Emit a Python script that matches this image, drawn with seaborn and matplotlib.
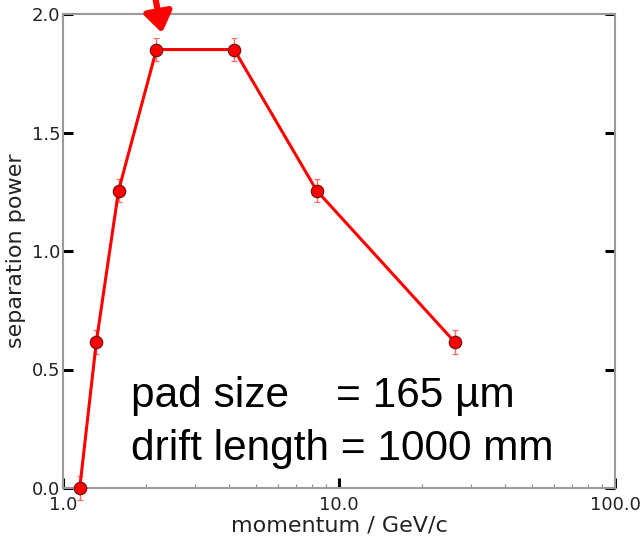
import numpy as np
import pandas as pd
import matplotlib
matplotlib.use("Agg")
import matplotlib.pyplot as plt
import seaborn as sns
from matplotlib.ticker import FixedLocator, FixedFormatter, LogLocator, NullFormatter

# ---- data ----
momentum = [1.15, 1.32, 1.59, 2.18, 4.17, 8.3, 26.3]
separation = [0.0, 0.615, 1.255, 1.85, 1.85, 1.255, 0.615]
sep_err = [0.05, 0.05, 0.05, 0.05, 0.05, 0.05, 0.05]
x_ticks = [1.0, 10.0, 100.0]
x_tick_labels = ["1.0", "10.0", "100.0"]
y_ticks = [0.0, 0.5, 1.0, 1.5, 2.0]
y_tick_labels = ["0.0", "0.5", "1.0", "1.5", "2.0"]
annot_lines = ["pad size    = 165 \u00b5m", "drift length = 1000 mm"]

sns.set_theme(style="white")
plt.rcParams['font.family'] = ['DejaVu Sans']

df = pd.DataFrame({"momentum": momentum, "separation": separation})

fig = plt.figure(figsize=(6.41, 5.42), dpi=100)
ax = fig.add_axes([63/641, 1 - 488/542, (615-63)/641, (488-14)/542])

ax.errorbar(momentum, separation, yerr=sep_err, fmt='none', ecolor='#ff6a6a',
            elinewidth=1.0, capsize=2, capthick=0.9, zorder=3, clip_on=False)
sns.lineplot(data=df, x="momentum", y="separation", ax=ax, color='#ff0000',
             linewidth=2.2, marker='o', markersize=9, markerfacecolor='#ff0000',
             markeredgecolor='#661111', markeredgewidth=0.8, zorder=4, clip_on=False,
             sort=False)

ax.set_xscale('log')
ax.set_xlim(1.0, 100.0)
ax.set_ylim(0.0, 2.0)
ax.xaxis.set_major_locator(FixedLocator(x_ticks))
ax.xaxis.set_major_formatter(FixedFormatter(x_tick_labels))
ax.xaxis.set_minor_locator(LogLocator(base=10, subs=np.arange(2, 10)))
ax.xaxis.set_minor_formatter(NullFormatter())
ax.yaxis.set_major_locator(FixedLocator(y_ticks))
ax.yaxis.set_major_formatter(FixedFormatter(y_tick_labels))

for s in ax.spines.values():
    s.set_color('#9a9a9a')
    s.set_linewidth(1.5)
    s.set_visible(True)

ax.tick_params(axis='both', which='major', direction='in', length=7, width=2.2,
               color='black', labelsize=13, labelcolor='#222222', pad=2)
ax.tick_params(axis='y', which='major', right=True, left=True)
ax.tick_params(axis='x', which='major', top=False, bottom=True, pad=6)
ax.tick_params(axis='x', which='minor', direction='in', length=3, width=0.8,
               color='#888888', bottom=True, top=False)

ax.set_xlabel("momentum / GeV/c", fontsize=16, color='#222222', labelpad=1)
ax.set_ylabel("separation power", fontsize=16, color='#222222', labelpad=4)

baselines = [407, 460]
for line, yb in zip(annot_lines, baselines):
    fig.text(131/641, 1 - yb/542, line, fontsize=30.5,
             family=['Liberation Sans', 'DejaVu Sans'], color='black',
             ha='left', va='baseline')

# red arrow pointing to the peak
ax.annotate("", xy=(162/641, 1 - 33/542), xycoords='figure fraction',
            xytext=(155/641, 1 + 4/542), textcoords='figure fraction',
            arrowprops=dict(arrowstyle='-|>,head_length=1.0,head_width=0.7',
                            color='#ff0000', lw=4.5, shrinkA=0, shrinkB=0),
            annotation_clip=False)

fig.savefig("out.png", dpi=100)
